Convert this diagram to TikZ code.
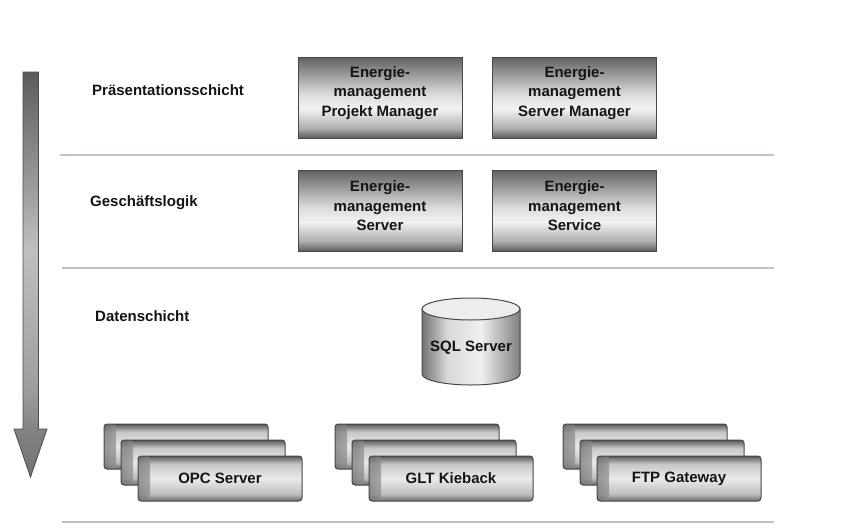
\documentclass[tikz,border=0pt]{standalone}
\usepackage{fontspec}
\setmainfont{Liberation Sans}

\definecolor{edge}{RGB}{72,72,72}
\definecolor{rule}{RGB}{200,190,186}
\definecolor{ink}{RGB}{20,20,20}

% component box: dark top, bright lower middle, dark bottom
\pgfdeclareverticalshading{boxshade}{100bp}{%
  color(0bp)=(black!64); color(25bp)=(black!64); color(31bp)=(black!32);
  color(43bp)=(black!5); color(52bp)=(black!14); color(75bp)=(black!62);
  color(100bp)=(black!62)}
% data source plate: dark top rim, bright body, darker bottom
\pgfdeclareverticalshading{plateshade}{100bp}{%
  color(0bp)=(black!58); color(25bp)=(black!58); color(33bp)=(black!25);
  color(50bp)=(black!8); color(66bp)=(black!22); color(72bp)=(black!50);
  color(75bp)=(black!68); color(100bp)=(black!68)}
% rounded left end of a plate
\pgfdeclarehorizontalshading{endshade}{100bp}{%
  color(0bp)=(black!55); color(25bp)=(black!55); color(45bp)=(white);
  color(75bp)=(black!12); color(100bp)=(black!12)}
% drum body: dark sides, bright centre
\pgfdeclarehorizontalshading{drumshade}{100bp}{%
  color(0bp)=(black!55); color(25bp)=(black!55); color(38bp)=(black!15);
  color(55bp)=(black!6); color(75bp)=(black!50); color(100bp)=(black!50)}
% flow arrow: dark at the top, lighter lower down, dark head
\pgfdeclareverticalshading{arrowshade}{100bp}{%
  color(0bp)=(black!55); color(25bp)=(black!55); color(30bp)=(black!50);
  color(36bp)=(black!38); color(53bp)=(black!25); color(75bp)=(black!64);
  color(100bp)=(black!64)}

\tikzset{
  boldtext/.style={font=\bfseries\fontsize{15}{19.5}\selectfont, text=ink},
  tier/.style={boldtext, anchor=west, inner sep=0pt},
  comp/.style={draw=edge, line width=1pt, shading=boxshade, minimum width=164pt,
    minimum height=81pt, inner sep=0pt},
  comptext/.style={boldtext, align=center, inner sep=0pt},
  plate/.style={draw=edge, line width=1pt, shading=plateshade, minimum width=164pt,
    minimum height=45pt, rounded corners=3pt, inner sep=0pt, boldtext,
    path picture={
      \path[shading=endshade, fill opacity=0.7]
        (path picture bounding box.north west) rectangle
        ([xshift=12pt]path picture bounding box.south west);
    }},
  sepline/.style={draw=rule, line width=2pt},
}

\begin{document}
\begin{tikzpicture}[x=1pt, y=-1pt]
\useasboundingbox[fill=white] (0,0) rectangle (848,530);

% layer separators
\path[sepline] (60,155) -- (774,155);
\path[sepline] (62,268) -- (774,268);
\path[sepline] (62,522) -- (774,522);

% downward flow arrow
\path[shading=arrowshade, draw=black!70, line width=0.8pt]
  (23,72) -- (38.5,72) -- (38.5,429) -- (47,429) -- (30.5,477)
  -- (14,429) -- (23,429) -- cycle;

% layer names
\node[tier] (praes) at (92,90)  {Präsentationsschicht};
\node[tier] (logik) at (90,203) {Geschäftslogik};
\node[tier] (daten) at (95,316) {Datenschicht};

% presentation and logic components
\node[comp] (pm)  at (380,97.5)   {};
\node[comp] (sm)  at (574.5,97.5) {};
\node[comp] (srv) at (380,210.5)  {};
\node[comp] (svc) at (574.5,210.5) {};
\node[comptext] (pmT)  at ([yshift=4.5pt]pm.center)  {Energie-\\management\\Projekt Manager};
\node[comptext] (smT)  at ([yshift=4.5pt]sm.center)  {Energie-\\management\\Server Manager};
\node[comptext] (srvT) at ([yshift=4.5pt]srv.center) {Energie-\\management\\Server};
\node[comptext] (svcT) at ([yshift=4.5pt]svc.center) {Energie-\\management\\Service};

% database drum
\path[shading=drumshade, draw=edge, line width=1pt]
  (422,309) -- (422,374) arc[start angle=180, end angle=360, x radius=49pt, y radius=11pt]
  -- (520,309) -- cycle;
\draw[edge, line width=1pt, fill=black!7] (471,309) ellipse [x radius=49pt, y radius=11pt];
\node[boldtext] (sql) at (471,348) {SQL Server};

% stacked data sources
\node[plate] (opcA) at (186,446.5) {};
\node[plate] (opcB) at (203,462.5) {};
\node[plate] (opc)  at (220,478.5) {OPC Server};

\node[plate] (gltA) at (417,446.5) {};
\node[plate] (gltB) at (434,462.5) {};
\node[plate] (glt)  at (451,478.5) {GLT Kieback};

\node[plate] (ftpA) at (645,446.5) {};
\node[plate] (ftpB) at (662,462.5) {};
\node[plate] (ftp)  at (679,478.5) {FTP Gateway};
\end{tikzpicture}
\end{document}
